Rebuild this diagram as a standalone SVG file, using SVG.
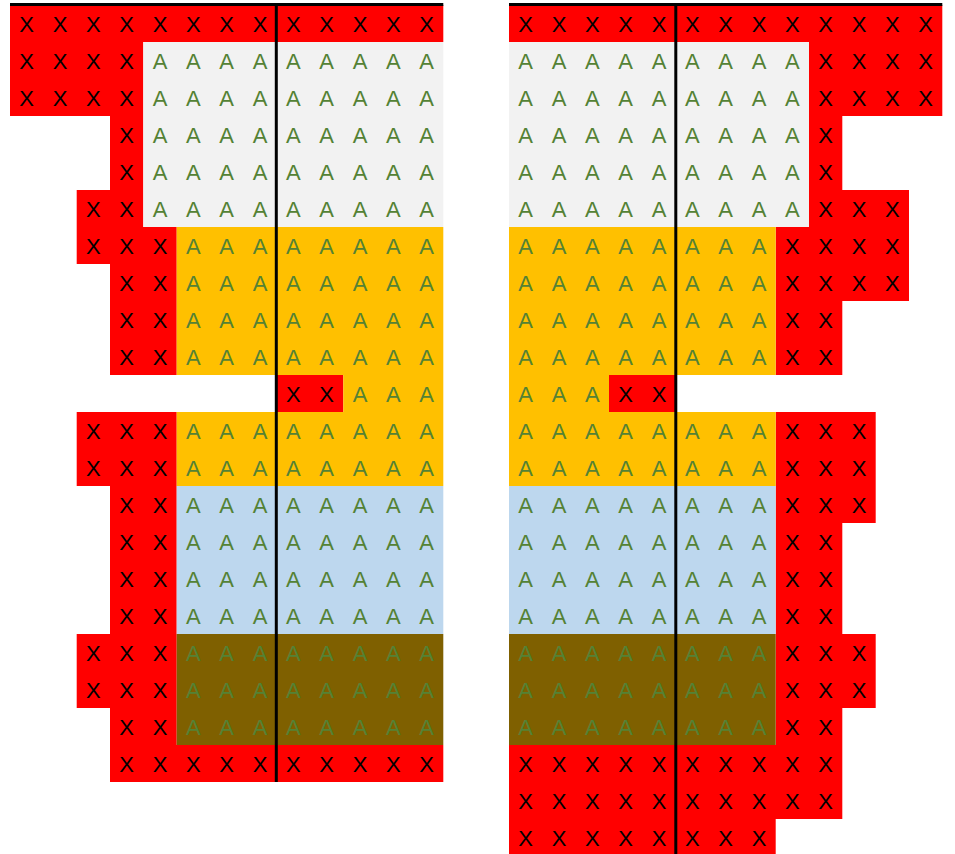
<svg xmlns="http://www.w3.org/2000/svg" width="955" height="854" viewBox="0 0 955 854">
<style>
.red{fill:#FF0000}.grey{fill:#F2F2F2}.orange{fill:#FFC000}.blue{fill:#BDD7EE}.brown{fill:#7F6000}
text{font-family:"Liberation Sans",Arial,sans-serif;font-size:22px;text-anchor:middle}
.x{fill:#000000}.a{fill:#548235}
.rule{stroke:#000000;stroke-width:3;fill:none}
</style>
<rect width="955" height="854" fill="#FFFFFF"/>
<g id="left-panel">
<g id="left-red">
<rect class="red" x="10" y="5" width="433.3" height="37"/>
<rect class="red" x="10" y="42" width="133.3" height="74"/>
<rect class="red" x="110" y="116" width="33.3" height="74"/>
<rect class="red" x="76.7" y="190" width="66.6" height="37"/>
<rect class="red" x="76.7" y="227" width="100" height="37"/>
<rect class="red" x="110" y="264" width="66.7" height="111"/>
<rect class="red" x="276.7" y="375" width="66.6" height="37"/>
<rect class="red" x="76.7" y="412" width="100" height="74"/>
<rect class="red" x="110" y="486" width="66.7" height="148"/>
<rect class="red" x="76.7" y="634" width="100" height="74"/>
<rect class="red" x="110" y="708" width="66.7" height="37"/>
<rect class="red" x="110" y="745" width="333.3" height="37"/>
</g>
<g id="left-grey"><rect class="grey" x="143.3" y="42" width="300" height="185"/></g>
<g id="left-orange">
<rect class="orange" x="176.7" y="227" width="266.6" height="148"/>
<rect class="orange" x="343.3" y="375" width="100" height="37"/>
<rect class="orange" x="176.7" y="412" width="266.6" height="74"/>
</g>
<g id="left-blue"><rect class="blue" x="176.7" y="486" width="266.6" height="148"/></g>
<g id="left-brown"><rect class="brown" x="176.7" y="634" width="266.6" height="111"/></g>
<g id="left-text">
<text class="x" x="26.7 60 93.3 126.7 160 193.3 226.7 260 293.3 326.7 360 393.3 426.7" y="32.3">XXXXXXXXXXXXX</text>
<text class="x" x="26.7 60 93.3 126.7" y="69.3">XXXX</text>
<text class="a" x="160 193.3 226.7 260 293.3 326.7 360 393.3 426.7" y="69.3">AAAAAAAAA</text>
<text class="x" x="26.7 60 93.3 126.7" y="106.3">XXXX</text>
<text class="a" x="160 193.3 226.7 260 293.3 326.7 360 393.3 426.7" y="106.3">AAAAAAAAA</text>
<text class="x" x="126.7" y="143.3">X</text>
<text class="a" x="160 193.3 226.7 260 293.3 326.7 360 393.3 426.7" y="143.3">AAAAAAAAA</text>
<text class="x" x="126.7" y="180.3">X</text>
<text class="a" x="160 193.3 226.7 260 293.3 326.7 360 393.3 426.7" y="180.3">AAAAAAAAA</text>
<text class="x" x="93.3 126.7" y="217.3">XX</text>
<text class="a" x="160 193.3 226.7 260 293.3 326.7 360 393.3 426.7" y="217.3">AAAAAAAAA</text>
<text class="x" x="93.3 126.7 160" y="254.3">XXX</text>
<text class="a" x="193.3 226.7 260 293.3 326.7 360 393.3 426.7" y="254.3">AAAAAAAA</text>
<text class="x" x="126.7 160" y="291.3">XX</text>
<text class="a" x="193.3 226.7 260 293.3 326.7 360 393.3 426.7" y="291.3">AAAAAAAA</text>
<text class="x" x="126.7 160" y="328.3">XX</text>
<text class="a" x="193.3 226.7 260 293.3 326.7 360 393.3 426.7" y="328.3">AAAAAAAA</text>
<text class="x" x="126.7 160" y="365.3">XX</text>
<text class="a" x="193.3 226.7 260 293.3 326.7 360 393.3 426.7" y="365.3">AAAAAAAA</text>
<text class="x" x="293.3 326.7" y="402.3">XX</text>
<text class="a" x="360 393.3 426.7" y="402.3">AAA</text>
<text class="x" x="93.3 126.7 160" y="439.3">XXX</text>
<text class="a" x="193.3 226.7 260 293.3 326.7 360 393.3 426.7" y="439.3">AAAAAAAA</text>
<text class="x" x="93.3 126.7 160" y="476.3">XXX</text>
<text class="a" x="193.3 226.7 260 293.3 326.7 360 393.3 426.7" y="476.3">AAAAAAAA</text>
<text class="x" x="126.7 160" y="513.3">XX</text>
<text class="a" x="193.3 226.7 260 293.3 326.7 360 393.3 426.7" y="513.3">AAAAAAAA</text>
<text class="x" x="126.7 160" y="550.3">XX</text>
<text class="a" x="193.3 226.7 260 293.3 326.7 360 393.3 426.7" y="550.3">AAAAAAAA</text>
<text class="x" x="126.7 160" y="587.3">XX</text>
<text class="a" x="193.3 226.7 260 293.3 326.7 360 393.3 426.7" y="587.3">AAAAAAAA</text>
<text class="x" x="126.7 160" y="624.3">XX</text>
<text class="a" x="193.3 226.7 260 293.3 326.7 360 393.3 426.7" y="624.3">AAAAAAAA</text>
<text class="x" x="93.3 126.7 160" y="661.3">XXX</text>
<text class="a" x="193.3 226.7 260 293.3 326.7 360 393.3 426.7" y="661.3">AAAAAAAA</text>
<text class="x" x="93.3 126.7 160" y="698.3">XXX</text>
<text class="a" x="193.3 226.7 260 293.3 326.7 360 393.3 426.7" y="698.3">AAAAAAAA</text>
<text class="x" x="126.7 160" y="735.3">XX</text>
<text class="a" x="193.3 226.7 260 293.3 326.7 360 393.3 426.7" y="735.3">AAAAAAAA</text>
<text class="x" x="126.7 160 193.3 226.7 260 293.3 326.7 360 393.3 426.7" y="772.3">XXXXXXXXXX</text>
</g>
</g>
<g id="right-panel">
<g id="right-red">
<rect class="red" x="509" y="5" width="433.3" height="37"/>
<rect class="red" x="809" y="42" width="133.3" height="74"/>
<rect class="red" x="809" y="116" width="33.3" height="74"/>
<rect class="red" x="809" y="190" width="100" height="37"/>
<rect class="red" x="775.7" y="227" width="133.3" height="74"/>
<rect class="red" x="775.7" y="301" width="66.6" height="74"/>
<rect class="red" x="609" y="375" width="66.7" height="37"/>
<rect class="red" x="775.7" y="412" width="100" height="111"/>
<rect class="red" x="775.7" y="523" width="66.6" height="111"/>
<rect class="red" x="775.7" y="634" width="100" height="74"/>
<rect class="red" x="775.7" y="708" width="66.6" height="37"/>
<rect class="red" x="509" y="745" width="333.3" height="74"/>
<rect class="red" x="509" y="819" width="266.7" height="37"/>
</g>
<g id="right-grey"><rect class="grey" x="509" y="42" width="300" height="185"/></g>
<g id="right-orange">
<rect class="orange" x="509" y="227" width="266.7" height="148"/>
<rect class="orange" x="509" y="375" width="100" height="37"/>
<rect class="orange" x="509" y="412" width="266.7" height="74"/>
</g>
<g id="right-blue"><rect class="blue" x="509" y="486" width="266.7" height="148"/></g>
<g id="right-brown"><rect class="brown" x="509" y="634" width="266.7" height="111"/></g>
<g id="right-text">
<text class="x" x="525.7 559 592.3 625.7 659 692.3 725.7 759 792.3 825.7 859 892.3 925.7" y="32.3">XXXXXXXXXXXXX</text>
<text class="a" x="525.7 559 592.3 625.7 659 692.3 725.7 759 792.3" y="69.3">AAAAAAAAA</text>
<text class="x" x="825.7 859 892.3 925.7" y="69.3">XXXX</text>
<text class="a" x="525.7 559 592.3 625.7 659 692.3 725.7 759 792.3" y="106.3">AAAAAAAAA</text>
<text class="x" x="825.7 859 892.3 925.7" y="106.3">XXXX</text>
<text class="a" x="525.7 559 592.3 625.7 659 692.3 725.7 759 792.3" y="143.3">AAAAAAAAA</text>
<text class="x" x="825.7" y="143.3">X</text>
<text class="a" x="525.7 559 592.3 625.7 659 692.3 725.7 759 792.3" y="180.3">AAAAAAAAA</text>
<text class="x" x="825.7" y="180.3">X</text>
<text class="a" x="525.7 559 592.3 625.7 659 692.3 725.7 759 792.3" y="217.3">AAAAAAAAA</text>
<text class="x" x="825.7 859 892.3" y="217.3">XXX</text>
<text class="a" x="525.7 559 592.3 625.7 659 692.3 725.7 759" y="254.3">AAAAAAAA</text>
<text class="x" x="792.3 825.7 859 892.3" y="254.3">XXXX</text>
<text class="a" x="525.7 559 592.3 625.7 659 692.3 725.7 759" y="291.3">AAAAAAAA</text>
<text class="x" x="792.3 825.7 859 892.3" y="291.3">XXXX</text>
<text class="a" x="525.7 559 592.3 625.7 659 692.3 725.7 759" y="328.3">AAAAAAAA</text>
<text class="x" x="792.3 825.7" y="328.3">XX</text>
<text class="a" x="525.7 559 592.3 625.7 659 692.3 725.7 759" y="365.3">AAAAAAAA</text>
<text class="x" x="792.3 825.7" y="365.3">XX</text>
<text class="a" x="525.7 559 592.3" y="402.3">AAA</text>
<text class="x" x="625.7 659" y="402.3">XX</text>
<text class="a" x="525.7 559 592.3 625.7 659 692.3 725.7 759" y="439.3">AAAAAAAA</text>
<text class="x" x="792.3 825.7 859" y="439.3">XXX</text>
<text class="a" x="525.7 559 592.3 625.7 659 692.3 725.7 759" y="476.3">AAAAAAAA</text>
<text class="x" x="792.3 825.7 859" y="476.3">XXX</text>
<text class="a" x="525.7 559 592.3 625.7 659 692.3 725.7 759" y="513.3">AAAAAAAA</text>
<text class="x" x="792.3 825.7 859" y="513.3">XXX</text>
<text class="a" x="525.7 559 592.3 625.7 659 692.3 725.7 759" y="550.3">AAAAAAAA</text>
<text class="x" x="792.3 825.7" y="550.3">XX</text>
<text class="a" x="525.7 559 592.3 625.7 659 692.3 725.7 759" y="587.3">AAAAAAAA</text>
<text class="x" x="792.3 825.7" y="587.3">XX</text>
<text class="a" x="525.7 559 592.3 625.7 659 692.3 725.7 759" y="624.3">AAAAAAAA</text>
<text class="x" x="792.3 825.7" y="624.3">XX</text>
<text class="a" x="525.7 559 592.3 625.7 659 692.3 725.7 759" y="661.3">AAAAAAAA</text>
<text class="x" x="792.3 825.7 859" y="661.3">XXX</text>
<text class="a" x="525.7 559 592.3 625.7 659 692.3 725.7 759" y="698.3">AAAAAAAA</text>
<text class="x" x="792.3 825.7 859" y="698.3">XXX</text>
<text class="a" x="525.7 559 592.3 625.7 659 692.3 725.7 759" y="735.3">AAAAAAAA</text>
<text class="x" x="792.3 825.7" y="735.3">XX</text>
<text class="x" x="525.7 559 592.3 625.7 659 692.3 725.7 759 792.3 825.7" y="772.3">XXXXXXXXXX</text>
<text class="x" x="525.7 559 592.3 625.7 659 692.3 725.7 759 792.3 825.7" y="809.3">XXXXXXXXXX</text>
<text class="x" x="525.7 559 592.3 625.7 659 692.3 725.7 759" y="846.3">XXXXXXXX</text>
</g>
</g>
<g id="connectors">
<line class="rule" x1="10" y1="4.5" x2="443.3" y2="4.5"/>
<line class="rule" x1="509" y1="4.5" x2="942.3" y2="4.5"/>
<line class="rule" x1="276.3" y1="3" x2="276.3" y2="782"/>
<line class="rule" x1="675.8" y1="3" x2="675.8" y2="854"/>
</g>
</svg>
